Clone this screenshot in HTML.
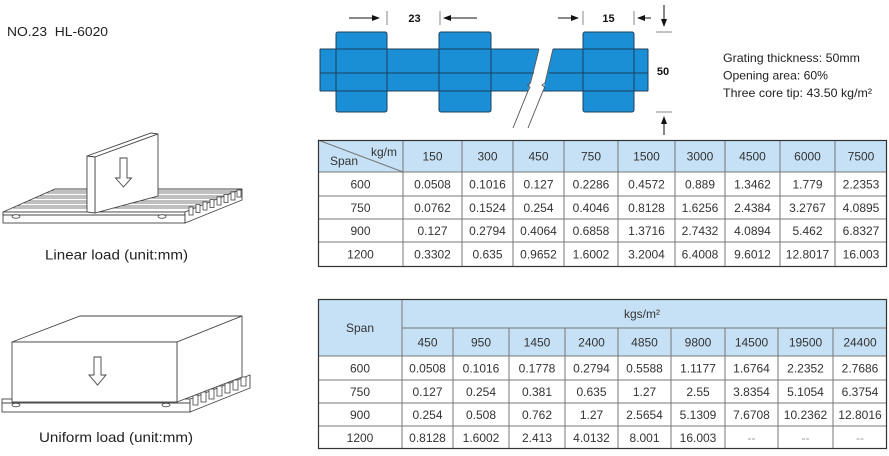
<!DOCTYPE html>
<html><head><meta charset="utf-8">
<style>
html,body{margin:0;padding:0;background:#fff;}
svg{display:block;font-family:"Liberation Sans",Arial,sans-serif;}
</style></head>
<body>
<svg width="889" height="456" viewBox="0 0 889 456" xmlns="http://www.w3.org/2000/svg">
<rect width="889" height="456" fill="#fff"/>

<!-- Title -->
<text x="7" y="36" font-size="13" fill="#222" textLength="101" lengthAdjust="spacingAndGlyphs">NO.23&#160; HL-6020</text>

<!-- Blue grating diagram -->
<g fill="#1b8fd6">
  <polygon points="320,49 539,49 528,91 320,91"/>
  <polygon points="553,49 648,49 648,91 543,91"/>
  <rect x="336" y="32" width="51" height="80" rx="2"/>
  <rect x="439" y="32" width="52" height="80" rx="2"/>
  <rect x="583" y="32" width="51" height="80" rx="2"/>
</g>
<g fill="none" stroke="#1d3f5e" stroke-width="1">
  <rect x="336" y="32" width="51" height="80" rx="2"/>
  <rect x="439" y="32" width="52" height="80" rx="2"/>
  <rect x="583" y="32" width="51" height="80" rx="2"/>
  <line x1="320" y1="49" x2="539" y2="49"/>
  <line x1="553" y1="49" x2="648" y2="49"/>
  <line x1="320" y1="91" x2="528" y2="91"/>
  <line x1="543" y1="91" x2="648" y2="91"/>
  <line x1="320" y1="73" x2="534" y2="73"/>
  <line x1="549" y1="73" x2="648" y2="73"/>
  <line x1="320" y1="49" x2="320" y2="91"/>
  <line x1="648" y1="49" x2="648" y2="91"/>
</g>
<g fill="none" stroke="#555" stroke-width="0.9">
  <path d="M539,49 L530.5,83 L527.5,85 L530,87.5 L528,91 L513,128"/>
  <path d="M553,49 L545,83 L542,85 L545,87.5 L543,91 L528,128"/>
</g>

<!-- dimension arrows -->
<g stroke="#111" stroke-width="1">
  <line x1="349" y1="18" x2="373" y2="18"/>
  <line x1="450" y1="18" x2="477" y2="18"/>
  <line x1="558" y1="18" x2="572" y2="18"/>
  <line x1="644" y1="18" x2="651" y2="18"/>
  <line x1="664" y1="5" x2="664" y2="20"/>
  <line x1="664" y1="123" x2="664" y2="135"/>
</g>
<g fill="#111">
  <polygon points="372,15 380,18 372,21"/>
  <polygon points="443,18 451,15 451,21"/>
  <polygon points="571,15 579,18 571,21"/>
  <polygon points="637,18 645,15 645,21"/>
  <polygon points="661,19 667,19 664,27"/>
  <polygon points="664,116 661,124 667,124"/>
</g>
<g stroke="#888" stroke-width="1">
  <line x1="387" y1="11" x2="387" y2="25"/>
  <line x1="440" y1="11" x2="440" y2="25"/>
  <line x1="583" y1="11" x2="583" y2="25"/>
  <line x1="634" y1="11" x2="634" y2="25"/>
  <line x1="656" y1="32" x2="672" y2="32"/>
  <line x1="656" y1="112" x2="672" y2="112"/>
</g>
<g font-size="11" font-weight="bold" fill="#111" text-anchor="middle">
  <text x="414.5" y="22">23</text>
  <text x="608.5" y="22">15</text>
  <text x="663" y="75">50</text>
</g>

<!-- Info text -->
<g font-size="12" fill="#222">
  <text x="723" y="62" textLength="137" lengthAdjust="spacingAndGlyphs">Grating thickness: 50mm</text>
  <text x="723" y="79.5" textLength="105" lengthAdjust="spacingAndGlyphs">Opening area: 60%</text>
  <text x="723" y="97" textLength="149" lengthAdjust="spacingAndGlyphs">Three core tip: 43.50 kg/m²</text>
</g>

<!-- ===== Top table ===== -->
<rect x="318" y="140" width="569" height="32" fill="#c6e1f5"/>
<g stroke="#777" stroke-width="1" fill="none">
  <line x1="318" y1="172" x2="887" y2="172"/>
  <line x1="318" y1="196" x2="887" y2="196"/>
  <line x1="318" y1="219" x2="887" y2="219"/>
  <line x1="318" y1="242" x2="887" y2="242"/>
  <line x1="403" y1="140" x2="403" y2="266"/>
  <line x1="462" y1="140" x2="462" y2="266"/>
  <line x1="513" y1="140" x2="513" y2="266"/>
  <line x1="564" y1="140" x2="564" y2="266"/>
  <line x1="618" y1="140" x2="618" y2="266"/>
  <line x1="675" y1="140" x2="675" y2="266"/>
  <line x1="725" y1="140" x2="725" y2="266"/>
  <line x1="780" y1="140" x2="780" y2="266"/>
  <line x1="835" y1="140" x2="835" y2="266"/>
  <line x1="318" y1="140" x2="403" y2="172"/>
</g>
<rect x="318.5" y="140.5" width="568" height="126" fill="none" stroke="#333" stroke-width="1.2"/>
<g font-size="12" fill="#333">
  <text x="371" y="156">kg/m</text>
  <text x="330" y="165">Span</text>
</g>
<g font-size="12" fill="#333" text-anchor="middle">
  <text x="432.5" y="160.3">150</text><text x="487.5" y="160.3">300</text><text x="538.5" y="160.3">450</text><text x="591" y="160.3">750</text><text x="646.5" y="160.3">1500</text><text x="700" y="160.3">3000</text><text x="752.5" y="160.3">4500</text><text x="807.5" y="160.3">6000</text><text x="861" y="160.3">7500</text>

  <text x="360.5" y="188.3">600</text><text x="432.5" y="188.3">0.0508</text><text x="487.5" y="188.3">0.1016</text><text x="538.5" y="188.3">0.127</text><text x="591" y="188.3">0.2286</text><text x="646.5" y="188.3">0.4572</text><text x="700" y="188.3">0.889</text><text x="752.5" y="188.3">1.3462</text><text x="807.5" y="188.3">1.779</text><text x="861" y="188.3">2.2353</text>

  <text x="360.5" y="211.8">750</text><text x="432.5" y="211.8">0.0762</text><text x="487.5" y="211.8">0.1524</text><text x="538.5" y="211.8">0.254</text><text x="591" y="211.8">0.4046</text><text x="646.5" y="211.8">0.8128</text><text x="700" y="211.8">1.6256</text><text x="752.5" y="211.8">2.4384</text><text x="807.5" y="211.8">3.2767</text><text x="861" y="211.8">4.0895</text>

  <text x="360.5" y="234.8">900</text><text x="432.5" y="234.8">0.127</text><text x="487.5" y="234.8">0.2794</text><text x="538.5" y="234.8">0.4064</text><text x="591" y="234.8">0.6858</text><text x="646.5" y="234.8">1.3716</text><text x="700" y="234.8">2.7432</text><text x="752.5" y="234.8">4.0894</text><text x="807.5" y="234.8">5.462</text><text x="861" y="234.8">6.8327</text>

  <text x="360.5" y="258.3">1200</text><text x="432.5" y="258.3">0.3302</text><text x="487.5" y="258.3">0.635</text><text x="538.5" y="258.3">0.9652</text><text x="591" y="258.3">1.6002</text><text x="646.5" y="258.3">3.2004</text><text x="700" y="258.3">6.4008</text><text x="752.5" y="258.3">9.6012</text><text x="807.5" y="258.3">12.8017</text><text x="861" y="258.3">16.003</text>
</g>

<!-- ===== Bottom table ===== -->
<rect x="318" y="299" width="569" height="57" fill="#c6e1f5"/>
<g stroke="#777" stroke-width="1" fill="none">
  <line x1="402" y1="328" x2="887" y2="328"/>
  <line x1="318" y1="356" x2="887" y2="356"/>
  <line x1="318" y1="380" x2="887" y2="380"/>
  <line x1="318" y1="403" x2="887" y2="403"/>
  <line x1="318" y1="426" x2="887" y2="426"/>
  <line x1="402" y1="299" x2="402" y2="449"/>
  <line x1="453" y1="328" x2="453" y2="449"/>
  <line x1="509" y1="328" x2="509" y2="449"/>
  <line x1="565" y1="328" x2="565" y2="449"/>
  <line x1="618" y1="328" x2="618" y2="449"/>
  <line x1="671" y1="328" x2="671" y2="449"/>
  <line x1="725" y1="328" x2="725" y2="449"/>
  <line x1="778" y1="328" x2="778" y2="449"/>
  <line x1="833" y1="328" x2="833" y2="449"/>
</g>
<rect x="318.5" y="299.5" width="568" height="149" fill="none" stroke="#333" stroke-width="1.2"/>
<g font-size="12" fill="#333" text-anchor="middle">
  <text x="360" y="332">Span</text>
  <text x="642" y="318">kgs/m²</text>
  <text x="427.5" y="346.3">450</text><text x="481" y="346.3">950</text><text x="537" y="346.3">1450</text><text x="591.5" y="346.3">2400</text><text x="644.5" y="346.3">4850</text><text x="698" y="346.3">9800</text><text x="751.5" y="346.3">14500</text><text x="805.5" y="346.3">19500</text><text x="860" y="346.3">24400</text>

  <text x="360" y="372.3">600</text><text x="427.5" y="372.3">0.0508</text><text x="481" y="372.3">0.1016</text><text x="537" y="372.3">0.1778</text><text x="591.5" y="372.3">0.2794</text><text x="644.5" y="372.3">0.5588</text><text x="698" y="372.3">1.1177</text><text x="751.5" y="372.3">1.6764</text><text x="805.5" y="372.3">2.2352</text><text x="860" y="372.3">2.7686</text>

  <text x="360" y="395.8">750</text><text x="427.5" y="395.8">0.127</text><text x="481" y="395.8">0.254</text><text x="537" y="395.8">0.381</text><text x="591.5" y="395.8">0.635</text><text x="644.5" y="395.8">1.27</text><text x="698" y="395.8">2.55</text><text x="751.5" y="395.8">3.8354</text><text x="805.5" y="395.8">5.1054</text><text x="860" y="395.8">6.3754</text>

  <text x="360" y="418.8">900</text><text x="427.5" y="418.8">0.254</text><text x="481" y="418.8">0.508</text><text x="537" y="418.8">0.762</text><text x="591.5" y="418.8">1.27</text><text x="644.5" y="418.8">2.5654</text><text x="698" y="418.8">5.1309</text><text x="751.5" y="418.8">7.6708</text><text x="805.5" y="418.8">10.2362</text><text x="860" y="418.8">12.8016</text>

  <text x="360" y="441.8">1200</text><text x="427.5" y="441.8">0.8128</text><text x="481" y="441.8">1.6002</text><text x="537" y="441.8">2.413</text><text x="591.5" y="441.8">4.0132</text><text x="644.5" y="441.8">8.001</text><text x="698" y="441.8">16.003</text><text x="751.5" y="441.8" fill="#999">--</text><text x="805.5" y="441.8" fill="#999">--</text><text x="860" y="441.8" fill="#999">--</text>
</g>

<!-- ===== Linear load illustration ===== -->
<g fill="#fff" stroke="#444" stroke-width="0.9">
  <polygon points="3,212 185,212 242,189 55,189"/>
  <rect x="3" y="212" width="182" height="11"/>
  <line x1="3" y1="215" x2="185" y2="215" fill="none"/>
  <polygon points="185,212 242,189 242,200 185,223"/>
</g>
<g stroke="#555" stroke-width="0.8" fill="none">
  <line x1="50" y1="191" x2="237" y2="191"/>
  <line x1="46" y1="193" x2="232" y2="193"/>
  <line x1="39" y1="196" x2="225" y2="196"/>
  <line x1="35" y1="198" x2="220" y2="198"/>
  <line x1="28" y1="201" x2="213" y2="201"/>
  <line x1="24" y1="203" x2="208" y2="203"/>
  <line x1="17" y1="206" x2="200" y2="206"/>
  <line x1="13" y1="208" x2="195" y2="208"/>
</g>
<g fill="#fff" stroke="#444" stroke-width="0.8">
  <rect x="189" y="207" width="4" height="8"/>
  <rect x="196" y="204.5" width="4" height="8"/>
  <rect x="203" y="202" width="4" height="8"/>
  <rect x="210" y="199.5" width="4" height="8"/>
  <rect x="217" y="197" width="4" height="8"/>
  <rect x="224" y="194.5" width="4" height="8"/>
  <rect x="231" y="192" width="4" height="8"/>
  <rect x="237" y="190" width="4" height="7"/>
  <ellipse cx="16" cy="216.5" rx="4" ry="1.8"/>
  <ellipse cx="162" cy="216.5" rx="4" ry="1.8"/>
</g>
<!-- plate -->
<g fill="#fff" stroke="#444" stroke-width="0.9">
  <polygon points="87,156 151,133 158,134 95,157"/>
  <polygon points="95,157 158,134 158,196 95,213"/>
  <polygon points="87,156 95,157 95,213 87,212"/>
  <polygon points="120,158 127,158 127,178 131.5,178 123.5,187 115.5,178 120,178"/>
</g>
<text x="45" y="259.5" font-size="14" fill="#222" textLength="143" lengthAdjust="spacingAndGlyphs">Linear load (unit:mm)</text>

<!-- ===== Uniform load illustration ===== -->
<g fill="#fff" stroke="#444" stroke-width="0.9">
  <rect x="2" y="399" width="188" height="13"/>
  <line x1="2" y1="403" x2="190" y2="403"/>
  <polygon points="190,399 250,375 250,388 190,412"/>
</g>
<g fill="#fff" stroke="#444" stroke-width="0.8">
  <rect x="193" y="395" width="5" height="10"/>
  <rect x="201" y="392" width="5" height="10"/>
  <rect x="209" y="389" width="5" height="10"/>
  <rect x="217" y="386" width="5" height="10"/>
  <rect x="225" y="383" width="5" height="10"/>
  <rect x="233" y="380" width="5" height="10"/>
  <rect x="241" y="377" width="5" height="9"/>
  <ellipse cx="16" cy="405" rx="4" ry="1.8"/>
  <ellipse cx="166" cy="405" rx="4" ry="1.8"/>
</g>
<g fill="#fff" stroke="#444" stroke-width="0.9">
  <polygon points="12,342 80,316 242,316 177,342"/>
  <polygon points="177,342 242,316 242,377 177,402"/>
  <rect x="12" y="342" width="165" height="60"/>
  <polygon points="94,357 101,357 101,375 106,375 97.5,385 89,375 94,375"/>
</g>
<text x="39" y="442" font-size="14" fill="#222" textLength="154" lengthAdjust="spacingAndGlyphs">Uniform load (unit:mm)</text>
</svg>
</body></html>
